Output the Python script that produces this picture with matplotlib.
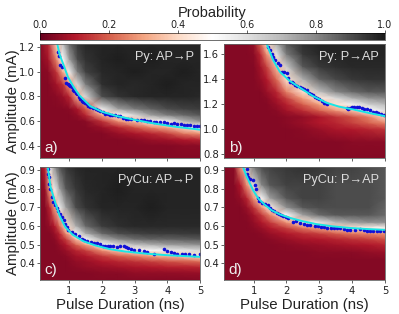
import numpy as np
import matplotlib
matplotlib.use("Agg")
import matplotlib.pyplot as plt

# sampled probability maps, percent, rows go from low to high amplitude
a_x = [0.1, 0.35, 0.6, 0.8, 1.0, 1.25, 1.5, 2, 2.5, 3, 3.5, 4, 4.5, 5]
a_y = [0.3, 0.4, 0.45, 0.5, 0.55, 0.6, 0.65, 0.7, 0.8, 0.9, 1.0, 1.1, 1.225]
a_p = [
    [4, 4, 4, 4, 4, 4, 4, 4, 4, 4, 4, 4, 4, 4],
    [4, 4, 4, 4, 4, 4, 4, 4, 4, 4, 4, 4, 5, 5],
    [4, 4, 4, 4, 4, 4, 4, 4, 4, 5, 7, 8, 10, 12],
    [4, 4, 4, 4, 4, 4, 4, 4, 7, 9, 12, 16, 24, 28],
    [4, 4, 4, 4, 4, 4, 4, 7, 12, 18, 26, 32, 40, 50],
    [4, 4, 4, 4, 4, 4, 5, 14, 28, 36, 48, 55, 70, 78],
    [4, 4, 4, 4, 4, 6, 12, 32, 48, 62, 75, 82, 85, 88],
    [4, 4, 4, 4, 5, 9, 20, 55, 75, 82, 86, 90, 92, 93],
    [4, 4, 5, 7, 12, 33, 62, 90, 95, 97, 98, 98, 98, 97],
    [4, 4, 8, 14, 30, 62, 82, 96, 98, 97, 98, 99, 98, 98],
    [4, 5, 14, 32, 55, 82, 92, 97, 98, 99, 98, 98, 99, 98],
    [4, 8, 25, 50, 75, 90, 95, 98, 99, 98, 99, 98, 98, 98],
    [4, 12, 38, 68, 85, 94, 97, 98, 98, 98, 98, 98, 98, 98],
]
b_x = [0.1, 0.5, 0.8, 1.0, 1.2, 1.4, 1.7, 2, 2.5, 3, 3.5, 4, 4.5, 5]
b_y = [0.77, 0.9, 1.0, 1.05, 1.1, 1.15, 1.2, 1.25, 1.3, 1.4, 1.5, 1.6, 1.68]
b_p = [
    [4, 4, 4, 4, 4, 4, 4, 4, 4, 4, 4, 4, 4, 4],
    [4, 4, 4, 4, 4, 4, 4, 4, 4, 4, 4, 5, 5, 5],
    [4, 4, 4, 4, 4, 4, 4, 4, 5, 7, 9, 10, 12, 14],
    [4, 4, 4, 4, 4, 4, 4, 5, 7, 10, 12, 16, 20, 25],
    [4, 4, 4, 4, 4, 4, 4, 5, 6, 9, 14, 18, 25, 40],
    [4, 4, 4, 4, 4, 4, 5, 8, 13, 20, 28, 36, 50, 60],
    [4, 4, 4, 4, 4, 4, 7, 11, 20, 30, 42, 55, 65, 70],
    [4, 4, 4, 4, 4, 5, 9, 16, 30, 44, 62, 72, 78, 80],
    [4, 4, 4, 4, 4, 7, 12, 25, 42, 68, 80, 85, 88, 88],
    [4, 4, 4, 4, 6, 10, 22, 42, 72, 86, 91, 94, 95, 95],
    [4, 4, 4, 4, 8, 16, 35, 65, 88, 94, 96, 97, 97, 97],
    [4, 4, 4, 5, 12, 28, 58, 82, 94, 97, 98, 98, 98, 98],
    [4, 4, 4, 6, 20, 40, 72, 88, 96, 98, 98, 98, 98, 98],
]
c_x = [0.1, 0.25, 0.4, 0.55, 0.7, 0.9, 1.2, 1.5, 2, 2.5, 3, 3.5, 4, 5]
c_y = [0.31, 0.35, 0.38, 0.41, 0.44, 0.47, 0.5, 0.53, 0.56, 0.6, 0.7, 0.8, 0.916]
c_p = [
    [4, 4, 4, 4, 4, 4, 4, 4, 4, 4, 4, 4, 4, 4],
    [4, 4, 4, 4, 4, 4, 4, 4, 5, 5, 6, 6, 6, 7],
    [4, 4, 4, 4, 4, 4, 5, 6, 7, 8, 9, 10, 11, 12],
    [4, 4, 4, 4, 4, 4, 6, 7, 10, 12, 14, 16, 18, 22],
    [4, 4, 4, 4, 4, 5, 8, 10, 15, 20, 24, 30, 34, 42],
    [4, 4, 4, 4, 5, 7, 12, 16, 28, 38, 46, 52, 56, 62],
    [4, 4, 4, 4, 6, 10, 20, 30, 52, 62, 68, 72, 75, 78],
    [4, 4, 4, 5, 9, 16, 35, 52, 72, 80, 84, 86, 86, 88],
    [4, 4, 4, 7, 12, 28, 52, 72, 85, 90, 92, 93, 93, 94],
    [4, 4, 6, 10, 22, 42, 72, 85, 93, 96, 97, 97, 97, 97],
    [4, 4, 12, 30, 55, 75, 90, 95, 98, 98, 98, 99, 98, 98],
    [4, 6, 30, 55, 75, 88, 94, 97, 98, 99, 98, 98, 98, 98],
    [4, 12, 55, 78, 88, 94, 97, 98, 98, 98, 98, 98, 98, 98],
]
d_x = [0.1, 0.4, 0.6, 0.8, 1.0, 1.25, 1.5, 2, 2.5, 3, 3.5, 4, 4.5, 5]
d_y = [0.31, 0.42, 0.46, 0.5, 0.53, 0.56, 0.59, 0.62, 0.66, 0.7, 0.75, 0.82, 0.916]
d_p = [
    [4, 4, 4, 4, 4, 4, 4, 4, 4, 4, 4, 4, 4, 4],
    [4, 4, 4, 4, 4, 4, 4, 4, 4, 4, 4, 4, 4, 4],
    [4, 4, 4, 4, 4, 4, 4, 4, 4, 5, 5, 5, 6, 7],
    [4, 4, 4, 4, 4, 4, 4, 5, 6, 7, 8, 9, 10, 12],
    [4, 4, 4, 4, 4, 4, 5, 7, 9, 10, 12, 14, 16, 18],
    [4, 4, 4, 4, 4, 5, 7, 10, 13, 16, 20, 24, 26, 28],
    [4, 4, 4, 4, 5, 7, 10, 16, 24, 30, 36, 42, 46, 48],
    [4, 4, 4, 4, 6, 10, 15, 28, 42, 58, 70, 75, 78, 78],
    [4, 4, 4, 5, 8, 15, 26, 50, 75, 85, 88, 88, 88, 85],
    [4, 4, 4, 7, 14, 28, 46, 78, 88, 90, 90, 90, 90, 86],
    [4, 4, 6, 12, 28, 52, 75, 88, 92, 92, 90, 90, 90, 88],
    [4, 4, 10, 28, 60, 80, 88, 92, 92, 92, 90, 90, 90, 88],
    [4, 5, 28, 65, 82, 90, 92, 94, 95, 94, 92, 92, 90, 88],
]

# measured switching points
a_bx = [0.66, 0.68, 0.72, 0.76, 0.86, 0.91, 0.95, 0.98, 1.02, 1.07, 1.11, 1.15, 1.19, 1.23, 1.28, 1.33, 1.38, 1.43, 1.48, 1.53, 1.58, 1.64, 1.72, 1.8, 1.88, 1.95, 2.02, 2.1, 2.17, 2.25, 2.32, 2.4, 2.48, 2.56, 2.65, 2.72, 2.8, 2.9, 3.07, 3.18, 3.3, 3.38, 3.48, 3.58, 3.65, 3.79, 3.89, 4.0, 4.1, 4.2, 4.3, 4.41, 4.51, 4.6, 4.7, 4.82, 4.9, 5.0]
a_by = [1.16, 1.13, 1.056, 1.04, 0.95, 0.91, 0.9, 0.89, 0.885, 0.877, 0.85, 0.84, 0.825, 0.816, 0.795, 0.78, 0.765, 0.755, 0.745, 0.74, 0.725, 0.717, 0.705, 0.7, 0.69, 0.683, 0.67, 0.66, 0.655, 0.648, 0.645, 0.645, 0.64, 0.642, 0.625, 0.616, 0.62, 0.615, 0.61, 0.612, 0.606, 0.6, 0.603, 0.595, 0.59, 0.59, 0.59, 0.582, 0.579, 0.58, 0.574, 0.576, 0.57, 0.566, 0.565, 0.563, 0.562, 0.562]
b_bx = [1.45, 1.5, 1.55, 1.6, 1.65, 1.73, 1.81, 1.86, 1.93, 2.01, 2.06, 2.11, 2.16, 2.2, 2.26, 2.32, 2.4, 2.47, 2.55, 2.62, 2.69, 2.75, 2.81, 2.87, 2.94, 3.0, 3.07, 3.13, 3.18, 3.23, 3.84, 3.88, 3.95, 4.0, 4.07, 4.14, 4.2, 4.3, 4.37, 4.45, 4.55, 4.65, 4.72, 4.8, 4.88, 4.96]
b_by = [1.66, 1.63, 1.6, 1.575, 1.555, 1.53, 1.515, 1.46, 1.455, 1.448, 1.41, 1.38, 1.375, 1.365, 1.355, 1.347, 1.34, 1.33, 1.32, 1.31, 1.29, 1.28, 1.27, 1.26, 1.25, 1.24, 1.225, 1.213, 1.208, 1.203, 1.168, 1.165, 1.17, 1.175, 1.18, 1.181, 1.18, 1.17, 1.165, 1.16, 1.15, 1.141, 1.135, 1.13, 1.12, 1.115]
c_bx = [0.33, 0.35, 0.37, 0.39, 0.41, 0.46, 0.51, 0.56, 0.61, 0.66, 0.71, 0.77, 0.82, 0.87, 0.92, 0.97, 1.07, 1.18, 1.28, 1.38, 1.46, 1.54, 1.65, 1.75, 1.85, 1.95, 2.03, 2.1, 2.18, 2.25, 2.35, 2.45, 2.55, 2.66, 2.73, 2.8, 2.9, 2.97, 3.13, 3.28, 3.38, 3.59, 3.9, 4.0, 4.1, 4.2, 4.3, 4.46, 4.55, 4.65, 4.82, 5.0]
c_by = [0.907, 0.88, 0.86, 0.827, 0.8, 0.755, 0.73, 0.711, 0.695, 0.68, 0.665, 0.648, 0.63, 0.612, 0.595, 0.577, 0.565, 0.559, 0.545, 0.532, 0.525, 0.518, 0.514, 0.51, 0.507, 0.505, 0.495, 0.49, 0.49, 0.493, 0.49, 0.488, 0.49, 0.493, 0.487, 0.48, 0.475, 0.47, 0.47, 0.464, 0.46, 0.448, 0.475, 0.465, 0.461, 0.455, 0.452, 0.448, 0.45, 0.45, 0.446, 0.45]
d_bx = [0.79, 0.81, 0.84, 0.9, 0.99, 1.05, 1.08, 1.12, 1.18, 1.25, 1.35, 1.45, 1.5, 1.55, 1.62, 1.7, 1.76, 1.83, 1.9, 1.98, 2.06, 2.21, 2.3, 2.42, 2.52, 2.62, 2.72, 2.87, 2.95, 3.05, 3.14, 3.23, 3.35, 3.45, 3.55, 3.64, 3.75, 3.85, 3.94, 4.1, 4.25, 4.35, 4.45, 4.55, 4.65, 4.75, 4.85, 4.96]
d_by = [0.907, 0.88, 0.863, 0.85, 0.845, 0.82, 0.8, 0.75, 0.735, 0.725, 0.715, 0.711, 0.695, 0.684, 0.678, 0.67, 0.666, 0.66, 0.655, 0.65, 0.645, 0.621, 0.625, 0.618, 0.612, 0.607, 0.603, 0.6, 0.598, 0.595, 0.592, 0.589, 0.59, 0.59, 0.588, 0.589, 0.585, 0.58, 0.577, 0.58, 0.582, 0.578, 0.575, 0.573, 0.573, 0.572, 0.572, 0.571]

# fit lines
a_fx = [0.63, 0.7, 0.82, 0.95, 1.125, 1.3, 1.64, 2.0, 2.46, 3.0, 3.48, 4.2, 5.0]
a_fy = [1.225, 1.14, 1.056, 0.96, 0.878, 0.81, 0.72, 0.675, 0.64, 0.61, 0.585, 0.555, 0.53]
b_fx = [1.4, 1.6, 1.8, 2.1, 2.42, 2.8, 3.23, 3.6, 4.04, 4.5, 5.0]
b_fy = [1.68, 1.55, 1.458, 1.385, 1.33, 1.265, 1.21, 1.18, 1.157, 1.13, 1.104]
c_fx = [0.34, 0.42, 0.56, 0.7, 0.87, 1.1, 1.43, 1.8, 2.25, 2.7, 3.3, 4.0, 5.0]
c_fy = [0.916, 0.81, 0.729, 0.655, 0.595, 0.553, 0.518, 0.495, 0.475, 0.463, 0.452, 0.443, 0.434]
d_fx = [0.67, 0.78, 0.89, 1.0, 1.15, 1.35, 1.55, 1.8, 2.11, 2.5, 2.93, 3.4, 3.94, 4.5, 5.0]
d_fy = [0.92, 0.87, 0.827, 0.787, 0.746, 0.712, 0.684, 0.662, 0.643, 0.625, 0.609, 0.598, 0.589, 0.583, 0.579]

labels = ["Py: AP→P", "Py: P→AP", "PyCu: AP→P", "PyCu: P→AP"]
letters = ["a)", "b)", "c)", "d)"]
ylims = [(0.3, 1.225), (0.77, 1.68), (0.31, 0.916), (0.31, 0.916)]
yticks = [[0.4, 0.6, 0.8, 1.0, 1.2], [0.8, 1.0, 1.2, 1.4, 1.6],
          [0.4, 0.5, 0.6, 0.7, 0.8, 0.9], [0.4, 0.5, 0.6, 0.7, 0.8, 0.9]]
sans = "Liberation Sans"

W, H = 399.0, 314.0


def box(x0, y0, x1, y1):
    return [x0 / W, 1 - y1 / H, (x1 - x0) / W, (y1 - y0) / H]


fig = plt.figure(figsize=(3.99, 3.14), dpi=100)
boxes = [box(40, 44, 200, 158), box(224, 44, 385, 158),
         box(40, 167, 200, 280), box(224, 167, 385, 280)]
maps = [(a_x, a_y, a_p), (b_x, b_y, b_p), (c_x, c_y, c_p), (d_x, d_y, d_p)]
blue = [(a_bx, a_by), (b_bx, b_by), (c_bx, c_by), (d_bx, d_by)]
fits = [(a_fx, a_fy), (b_fx, b_fy), (c_fx, c_fy), (d_fx, d_fy)]

for i in range(4):
    ax = fig.add_axes(boxes[i])
    mx, my, mp = maps[i]
    mesh = ax.pcolormesh(mx, my, np.array(mp) / 100.0, cmap="RdGy", vmin=0, vmax=1,
                         shading="gouraud")
    ax.plot(blue[i][0], blue[i][1], ls="none", marker="o", ms=2.6, color="#1010d8", mew=0)
    ax.plot(fits[i][0], fits[i][1], color="#19e6e6", lw=1.4)
    ax.set_xlim(0.1, 5)
    ax.set_ylim(*ylims[i])
    ax.set_xticks([1, 2, 3, 4, 5])
    ax.set_yticks(yticks[i])
    ax.tick_params(labelsize=7.2, length=2, width=0.5, pad=1.5, colors="#222222")
    ax.tick_params(axis="x", pad=2.5)
    if i < 2:
        ax.set_xticklabels([])
    else:
        ax.set_xlabel("Pulse Duration (ns)", fontsize=10.8, family=sans, labelpad=1, color="#222222")
    if i % 2 == 0:
        ax.set_ylabel("Amplitude (mA)", fontsize=10.8, family=sans, labelpad=-0.5, color="#222222")
    for s in ax.spines.values():
        s.set_linewidth(0.6)
        s.set_color("#666666")
    ax.text(0.96, 0.885, labels[i], transform=ax.transAxes, ha="right", va="center",
            fontsize=9.2, family=sans, color="#dddddd")
    ax.text(0.03, 0.085, letters[i], transform=ax.transAxes, ha="left", va="center",
            fontsize=11, family=sans, color="#eeeeee")

cax = fig.add_axes(box(40, 33, 385, 40))
cb = fig.colorbar(mesh, cax=cax, orientation="horizontal")
cb.set_ticks([0, 0.2, 0.4, 0.6, 0.8, 1.0])
cb.ax.xaxis.set_ticks_position("top")
cb.ax.xaxis.set_label_position("top")
cb.ax.tick_params(labelsize=7, length=2, width=0.5, pad=0.5, colors="#222222")
cb.outline.set_linewidth(0.4)
cb.set_label("Probability", fontsize=10.5, family=sans, labelpad=2, color="#222222")

fig.savefig("out.png", dpi=100)
